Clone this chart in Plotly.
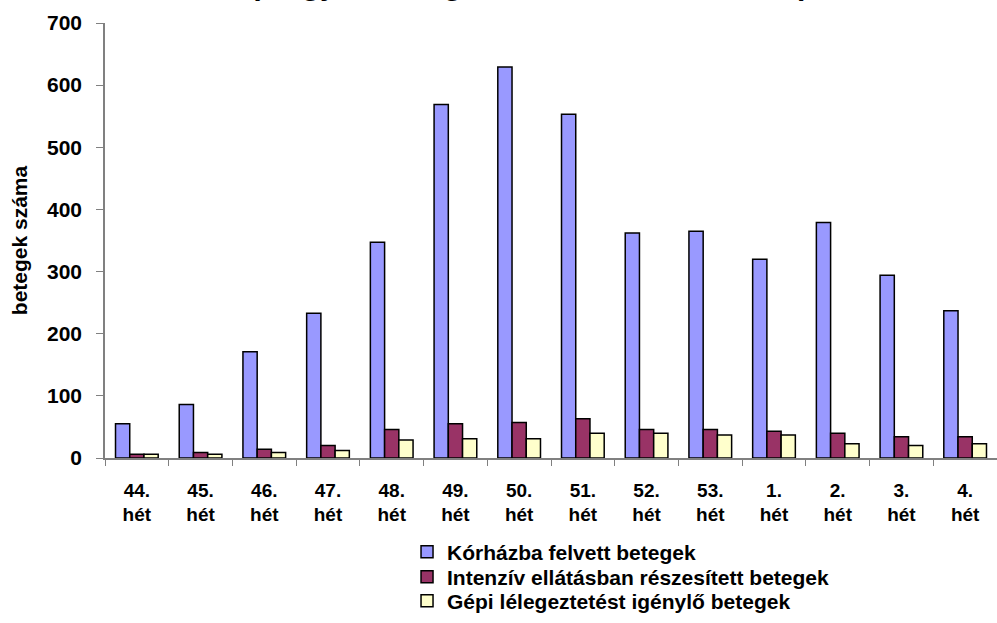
import plotly.graph_objects as go

weeks = ["44.<br>hét", "45.<br>hét", "46.<br>hét", "47.<br>hét", "48.<br>hét", "49.<br>hét",
         "50.<br>hét", "51.<br>hét", "52.<br>hét", "53.<br>hét", "1.<br>hét", "2.<br>hét",
         "3.<br>hét", "4.<br>hét"]
korhaz = [55, 86, 171, 233, 347, 569, 629, 553, 362, 365, 320, 379, 294, 237]
intenziv = [6, 9, 14, 20, 46, 55, 57, 63, 46, 46, 43, 40, 34, 34]
gepi = [6, 6, 9, 12, 29, 31, 31, 40, 40, 37, 37, 23, 20, 23]
series_names = ["Kórházba felvett betegek", "Intenzív ellátásban részesített betegek",
                "Gépi lélegeztetést igénylő betegek"]
colors = ["#9999FF", "#993366", "#FFFFCC"]
y_ticks = [0, 100, 200, 300, 400, 500, 600, 700]
title_text = "(Magyarország, 2009. 44. – 2010. 4. hét)"

FONT = "Liberation Sans, Arial, sans-serif"
W, H = 997, 623
ML, MR, MT, MB = 105, 0, 23, 165
plot_h = H - MT - MB

legend_ids = ["legend", "legend2", "legend3"]
legend_centers_px = [552, 577, 601]

fig = go.Figure()
for name, vals, col, lid in zip(series_names, [korhaz, intenziv, gepi], colors, legend_ids):
    fig.add_trace(go.Bar(x=weeks, y=vals, name=name, legend=lid,
                         marker=dict(color=col, line=dict(color="black", width=1.5))))

legend_layout = {}
for lid, cy in zip(legend_ids, legend_centers_px):
    legend_layout[lid] = dict(
        x=0.3386, y=(H - MB - cy) / plot_h, xanchor="left", yanchor="middle",
        font=dict(size=21, family=FONT, weight="bold", color="black"),
        bgcolor="rgba(0,0,0,0)", itemwidth=30)

fig.update_layout(
    width=W, height=H,
    paper_bgcolor="white", plot_bgcolor="white",
    barmode="group", bargap=0.33, bargroupgap=0,
    margin=dict(l=ML, r=MR, t=MT, b=MB, autoexpand=False),
    font=dict(family=FONT, color="black"),
    showlegend=True,
    xaxis=dict(showline=True, linecolor="#808080", linewidth=1.5,
               ticks="outside", tickson="boundaries", ticklen=6, tickcolor="#808080",
               tickfont=dict(size=19, family=FONT, weight="bold"),
               ticklabelstandoff=14,
               showgrid=False, fixedrange=True),
    yaxis=dict(range=[0, 700], tickvals=y_ticks, showline=True, linecolor="#808080",
               linewidth=1.5, ticks="outside", ticklen=7, tickcolor="#808080",
               tickfont=dict(size=21, family=FONT, weight="bold"),
               ticklabelstandoff=10,
               showgrid=False, zeroline=False, fixedrange=True,
               title=dict(text="betegek száma", font=dict(size=21, family=FONT, weight="bold"),
                          standoff=14)),
    **legend_layout,
)

fig.add_annotation(text=title_text,
                   xref="paper", yref="paper", x=(529 - ML) / (W - ML - MR), y=1,
                   xanchor="center", yanchor="bottom", yshift=20, showarrow=False,
                   font=dict(size=30, family=FONT, weight="bold", color="black"))

fig.write_html("out.html", config={"displayModeBar": False},
               post_script="document.body.style.margin='0';document.body.style.overflow='hidden';")
